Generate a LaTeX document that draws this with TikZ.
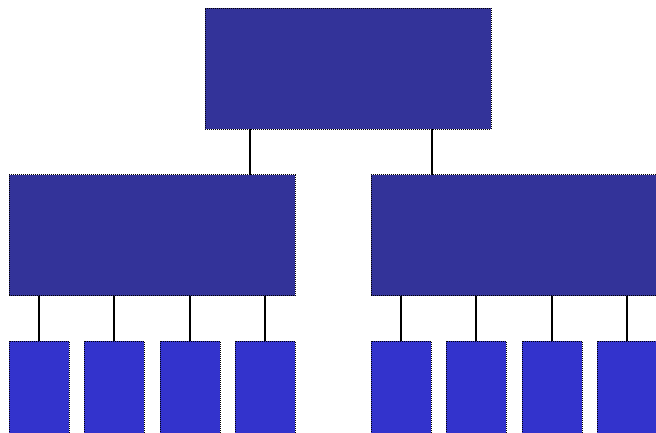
\documentclass[tikz,border=0pt]{standalone}
\usetikzlibrary{calc}
\usetikzlibrary{positioning}
\definecolor{bigblue}{HTML}{333399}
\definecolor{smallblue}{HTML}{3333CC}
\tikzstyle{bigbox} = [draw=black, dash pattern=on 1pt off 1pt, line width=1pt, fill=bigblue, minimum width=286pt, minimum height=121pt, inner sep=0pt, outer sep=0pt]
\tikzstyle{smallbox} = [draw=black, dash pattern=on 1pt off 1pt, line width=1pt, fill=smallblue, minimum width=60pt, minimum height=110pt, inner sep=0pt, outer sep=0pt]
\tikzstyle{link} = [draw=black, line width=1.5pt]

\begin{document}
\begin{tikzpicture}[x=1pt, y=-1pt]
    \useasboundingbox (0,0) rectangle (656,432);
    \clip (0,0) rectangle (656,432);

    \node[bigbox] (head) at (348,68.5) {};
    \node[bigbox] (left) at ($(head)+(-196,166.5)$) {};
    \node[bigbox] (right) at ($(head)+(166,166.5)$) {};
    \draw[link] ([xshift=-98pt]head.south) -- ([xshift=-98pt]head.south |- left.north);
    \draw[link] ([xshift=84pt]head.south) -- ([xshift=84pt]head.south |- right.north);

    \node[smallbox] (l1) at ($(left)+(-113,161)$) {};
    \node[smallbox] (l2) at ($(l1)+(75,0)$) {};
    \node[smallbox] (l3) at ($(l2)+(76,0)$) {};
    \node[smallbox] (l4) at ($(l3)+(75,0)$) {};
    \node[smallbox] (r1) at ($(right)+(-113,161)$) {};
    \node[smallbox] (r2) at ($(r1)+(75,0)$) {};
    \node[smallbox] (r3) at ($(r2)+(76,0)$) {};
    \node[smallbox] (r4) at ($(r3)+(75,0)$) {};

    \foreach \b in {l1,l2,l3,l4}
        \draw[link] (\b.north |- left.south) -- (\b.north);
    \foreach \b in {r1,r2,r3,r4}
        \draw[link] (\b.north |- right.south) -- (\b.north);
\end{tikzpicture}
\end{document}
